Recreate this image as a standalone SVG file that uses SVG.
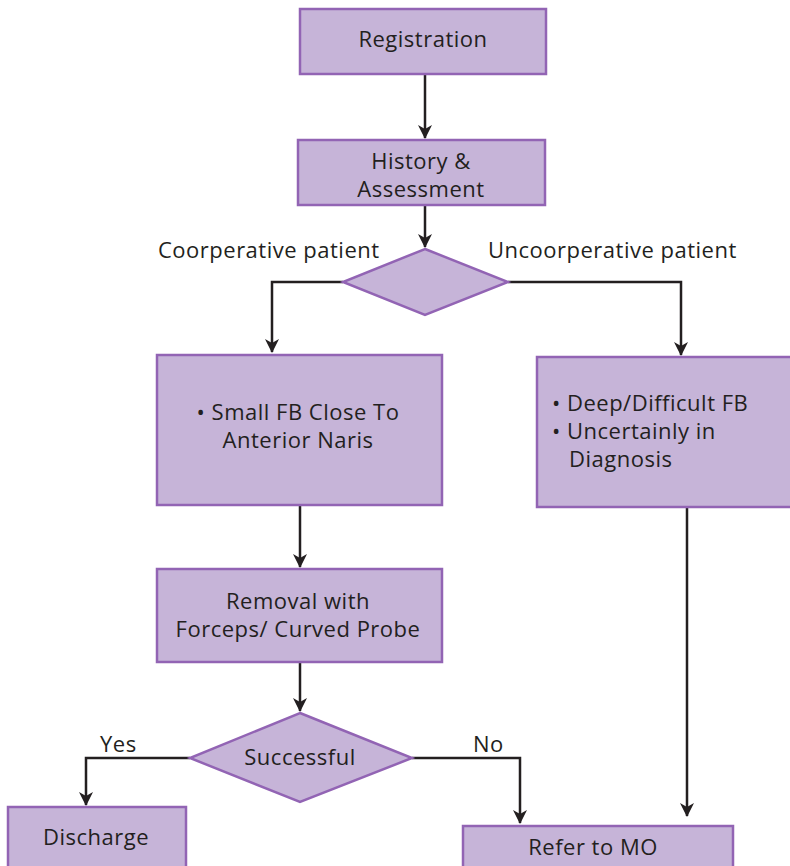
<svg xmlns="http://www.w3.org/2000/svg" width="790" height="866" viewBox="0 0 790 866">
<defs>
<style>
.box{fill:#c6b4d8;stroke:#9264b4;stroke-width:2.5}
.t{font-family:"Open Sans","Noto Sans","Liberation Sans",sans-serif;font-size:22px;letter-spacing:0.5px;fill:#231f20}
.c{text-anchor:middle}
.ln{fill:none;stroke:#231f20;stroke-width:2.5;marker-end:url(#ah)}
</style>
<marker id="ah" markerUnits="userSpaceOnUse" markerWidth="14" markerHeight="16" viewBox="0 0 14 16" refX="13" refY="8" orient="auto">
<path d="M0,1 L14,8 L0,15 L4,8 z" fill="#231f20"/>
</marker>
</defs>
<g id="connectors">
<path class="ln" d="M425,74 V138"/>
<path class="ln" d="M425,206 V247"/>
<path class="ln" d="M343,282 H272 V352"/>
<path class="ln" d="M508,282 H681 V355"/>
<path class="ln" d="M300,505 V567"/>
<path class="ln" d="M300,662 V711"/>
<path class="ln" d="M190,758 H86 V805"/>
<path class="ln" d="M412,758 H520 V823"/>
<path class="ln" d="M687,507 V816"/>
</g>
<g id="registration">
<rect class="box" x="300" y="9" width="246" height="65"/>
<text class="t c" x="423" y="47">Registration</text>
</g>
<g id="history">
<rect class="box" x="298" y="140" width="247" height="65"/>
<text class="t c" x="421" y="169">History &amp;</text>
<text class="t c" x="421" y="197">Assessment</text>
</g>
<g id="decision1">
<polygon class="box" points="425,249 508,282 425,315 343,282"/>
</g>
<g id="labels1">
<text class="t" x="158" y="258">Coorperative patient</text>
<text class="t" x="488" y="258">Uncoorperative patient</text>
</g>
<g id="small-fb">
<rect class="box" x="157" y="355" width="285" height="150"/>
<text class="t c" x="298" y="420">• Small FB Close To</text>
<text class="t c" x="298" y="448">Anterior Naris</text>
</g>
<g id="deep-fb">
<rect class="box" x="537" y="357" width="260" height="150"/>
<text class="t" x="552" y="411">• Deep/Difficult FB</text>
<text class="t" x="552" y="439">• Uncertainly in</text>
<text class="t" x="569" y="467">Diagnosis</text>
</g>
<g id="removal">
<rect class="box" x="157" y="569" width="285" height="93"/>
<text class="t c" x="298" y="609">Removal with</text>
<text class="t c" x="298" y="637">Forceps/ Curved Probe</text>
</g>
<g id="successful">
<polygon class="box" points="300,713 412,758 300,802 190,758"/>
<text class="t c" x="300" y="765">Successful</text>
</g>
<g id="labels2">
<text class="t" x="100" y="752">Yes</text>
<text class="t" x="473" y="752">No</text>
</g>
<g id="discharge">
<rect class="box" x="8" y="807" width="178" height="70"/>
<text class="t c" x="96" y="845">Discharge</text>
</g>
<g id="refer">
<rect class="box" x="463" y="826" width="270" height="50"/>
<text class="t c" x="593" y="855">Refer to MO</text>
</g>
</svg>
